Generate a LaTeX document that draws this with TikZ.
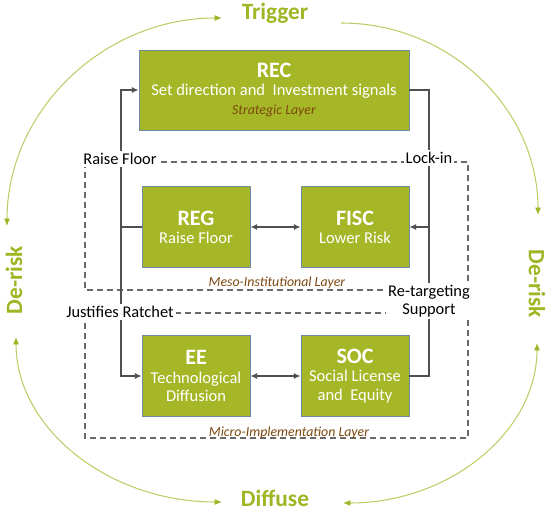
\documentclass[tikz,border=0pt]{standalone}
\usepackage{fontspec}
\setmainfont{Carlito}
\usetikzlibrary{arrows.meta}

\definecolor{unitgreen}{RGB}{165,183,38}
\definecolor{unitedge}{RGB}{110,138,168}
\definecolor{linkgray}{RGB}{80,80,80}
\definecolor{dashgray}{RGB}{105,105,105}
\definecolor{layerbrown}{RGB}{125,72,15}
\definecolor{cyclegreen}{RGB}{158,182,36}
\definecolor{cycleline}{RGB}{188,206,105}

\begin{document}
\begin{tikzpicture}[x=0.75pt, y=0.75pt, >={Latex[length=5pt,width=4.5pt]},
    unit/.style={draw=unitedge, line width=0.6pt, fill=unitgreen, text=white, align=center,
        minimum width=81pt, minimum height=61pt, inner sep=2pt, font=\fontsize{12.4}{13.6}\selectfont},
    link/.style={draw=linkgray, line width=1pt},
    layer/.style={draw=dashgray, line width=0.9pt, dash pattern=on 4.5pt off 3pt},
    tag/.style={fill=white, inner sep=1.5pt, align=center, font=\fontsize{12.3}{14}\selectfont},
    layername/.style={text=layerbrown, font=\itshape\fontsize{10.4}{12}\selectfont},
    cyc/.style={draw=cycleline, line width=0.8pt, >={Latex[length=5.5pt,width=4.5pt,color=cyclegreen]}},
    phase/.style={text=cyclegreen, inner sep=1pt, font=\bfseries\fontsize{17.5}{19}\selectfont}]

    \useasboundingbox (0,0) rectangle (550,511);

    % outer cycle
    \node[phase] (trig) at (275,498) {Trigger};
    \node[phase] (diff) at (275,13) {Diffuse};
    \node[phase, rotate=90] (derl) at (14,231) {De-risk};
    \node[phase, rotate=-90] (derr) at (537,227) {De-risk};

    \coordinate (tl) at (7,285);
    \coordinate (tr) at (341,488);
    \coordinate (bl) at (16,174);
    \coordinate (br) at (343,8);
    \draw[cyc, <->] (tl) arc[start angle=180, end angle=90, x radius=215, y radius=208];
    \draw[cyc, ->] (tr) arc[start angle=90, end angle=0, x radius=197, y radius=192];
    \draw[cyc, <->] (bl) arc[start angle=180, end angle=270, x radius=206, y radius=165];
    \draw[cyc, <->] (br) arc[start angle=270, end angle=360, x radius=194, y radius=160];

    % layer frames
    \draw[layer] (85,349) rectangle (468,221);
    \draw[layer] (85,198) rectangle (468,73);
    \node[layername] (meso) at (277,228) {Meso-Institutional Layer};
    \node[layername] (micro) at (289,78) {Micro-Implementation Layer};

    % units
    \node[unit, minimum width=202.5pt, minimum height=60pt] (rec) at (274,421)
        {{\bfseries\fontsize{16.5}{18}\selectfont REC}\\Set direction and~~Investment signals\\[1pt]
         {\color{layerbrown}\itshape\fontsize{10.4}{12}\selectfont Strategic Layer}};
    \node[unit] (reg) at (196,284) {{\bfseries\fontsize{16.5}{18}\selectfont REG}\\Raise Floor};
    \node[unit] (fisc) at (355,284) {{\bfseries\fontsize{16.5}{18}\selectfont FISC}\\Lower Risk};
    \node[unit] (ee) at (196,135) {{\bfseries\fontsize{16.5}{18}\selectfont EE}\\Technological\\Diffusion};
    \node[unit] (soc) at (355,135) {{\bfseries\fontsize{16.5}{18}\selectfont SOC}\\Social License\\and~~Equity};

    % links
    \coordinate (lbus) at (121,284);
    \coordinate (rbus) at (429,284);
    \draw[link, ->] (reg.west) -- (lbus) |- (rec.west);
    \draw[link, ->] (lbus) |- (ee.west);
    \draw[link] (rec.east) -| (rbus) |- (soc.east);
    \draw[link, ->] (rbus) -- (fisc.east);
    \draw[link, <->] (reg.east) -- (fisc.west);
    \draw[link, <->] (ee.east) -- (soc.west);

    % link labels
    \node[tag] (raise) at (120,352) {Raise Floor};
    \node[tag] (lock) at (429,353) {Lock-in};
    \node[tag] (ratchet) at (120,199) {Justifies Ratchet};
    \node[tag] (retarget) at (429,210) {Re-targeting\\Support};

\end{tikzpicture}
\end{document}
